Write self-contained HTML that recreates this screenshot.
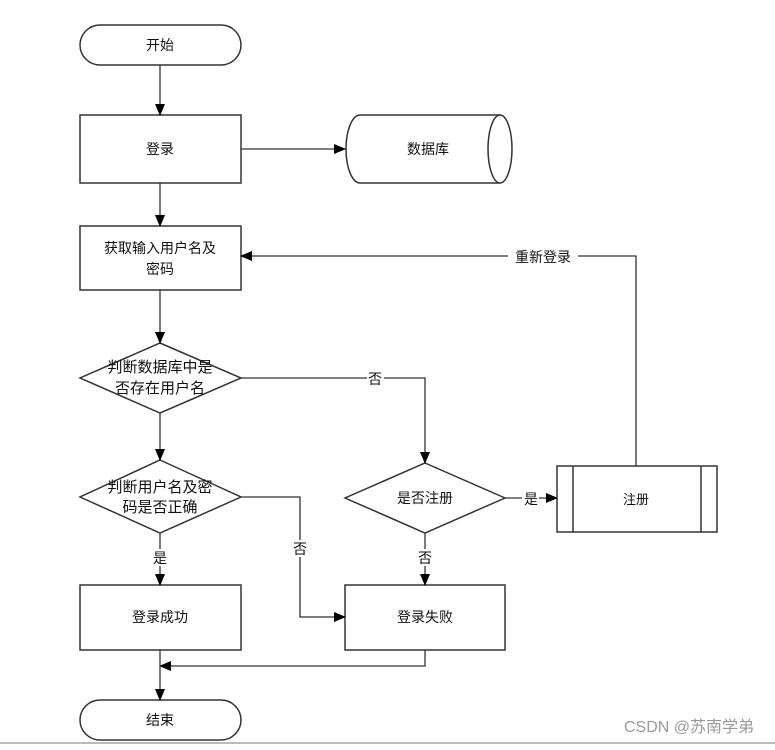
<!DOCTYPE html>
<html><head><meta charset="utf-8"><style>
body{margin:0;background:#fff;}
text{font-family:"Liberation Sans","Noto Sans CJK SC",sans-serif;font-size:14px;fill:#111;}
</style></head><body>
<svg width="775" height="745" viewBox="0 0 775 745" xmlns="http://www.w3.org/2000/svg">
<defs><marker id="a" markerWidth="12" markerHeight="10" refX="11" refY="5" orient="auto" markerUnits="userSpaceOnUse"><path d="M0,0 L12,5 L0,10 Z" fill="#000"/></marker></defs>
<g fill="none" stroke="#333" stroke-width="1.5">
<rect x="80" y="25" width="161" height="40" rx="20"/>
<rect x="80" y="115" width="161" height="68"/>
<path d="M360,115 H500 A12,34 0 0 1 500,183 H360 A14,34 0 0 1 360,115 Z"/>
<path d="M500,115 A12,34 0 0 0 500,183"/>
<rect x="80" y="226" width="161" height="64"/>
<path d="M160,343 L241,378 L160,413 L80,378 Z"/>
<path d="M160,460 L241,497 L160,533 L80,497 Z"/>
<path d="M425,463 L505,498 L425,533 L345,498 Z"/>
<rect x="557" y="466" width="160" height="66"/>
<path d="M573,466 V532 M701,466 V532"/>
<rect x="80" y="585" width="161" height="65"/>
<rect x="345" y="585" width="160" height="65"/>
<rect x="80" y="700" width="161" height="40" rx="20"/>
</g>
<g fill="none" stroke="#333" stroke-width="1.3">
<path d="M160,65 V115" marker-end="url(#a)"/>
<path d="M241,149 H345" marker-end="url(#a)"/>
<path d="M160,183 V226" marker-end="url(#a)"/>
<path d="M160,290 V343" marker-end="url(#a)"/>
<path d="M241,378 H425 V463" marker-end="url(#a)"/>
<path d="M160,413 V460" marker-end="url(#a)"/>
<path d="M241,497 H300 V617 H345" marker-end="url(#a)"/>
<path d="M160,533 V585" marker-end="url(#a)"/>
<path d="M505,498 H557" marker-end="url(#a)"/>
<path d="M425,533 V585" marker-end="url(#a)"/>
<path d="M636,466 V256 H241" marker-end="url(#a)"/>
<path d="M425,650 V666 H160" marker-end="url(#a)"/>
<path d="M160,650 V700" marker-end="url(#a)"/>
</g>
<line x1="0" y1="743" x2="775" y2="743" stroke="#bbb" stroke-width="2"/>
<g text-anchor="middle">
<text x="160" y="50">开始</text>
<text x="160" y="154">登录</text>
<text x="428" y="154">数据库</text>
<text x="160" y="253">获取输入用户名及</text>
<text x="160" y="274">密码</text>
<text x="160" y="372" style="font-size:15px">判断数据库中是</text>
<text x="160" y="393" style="font-size:15px">否存在用户名</text>
<text x="160" y="492" style="font-size:15px">判断用户名及密</text>
<text x="160" y="512" style="font-size:15px">码是否正确</text>
<text x="425" y="503">是否注册</text>
<text x="636" y="504" style="font-size:13px">注册</text>
<text x="160" y="622">登录成功</text>
<text x="425" y="622">登录失败</text>
<text x="160" y="725">结束</text>
</g>
<g fill="#fff"><rect x="367" y="370" width="17" height="17"/><rect x="292" y="540" width="17" height="17"/><rect x="152" y="549" width="17" height="17"/><rect x="416" y="549" width="17" height="17"/><rect x="522" y="490" width="17" height="17"/><rect x="508" y="248" width="70" height="17"/></g>
<g text-anchor="middle">
<text x="375" y="384">否</text>
<text x="300" y="554">否</text>
<text x="160" y="563">是</text>
<text x="425" y="563">否</text>
<text x="531" y="504">是</text>
<text x="543" y="262">重新登录</text>
</g>
<text x="624" y="732" style="font-size:16px;fill:#999">CSDN @苏南学弟</text>
</svg>
</body></html>
